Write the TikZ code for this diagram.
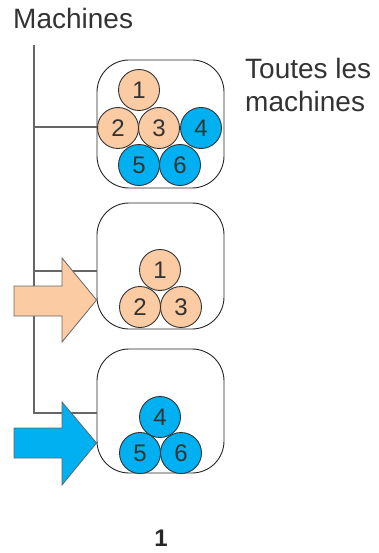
\documentclass[tikz,border=0pt]{standalone}
\usepackage{fontspec}
\setmainfont{Liberation Sans}
\usepackage{xcolor}
\definecolor{machpeach}{HTML}{FBCBA3}
\definecolor{machblue}{HTML}{00B0F0}
\definecolor{machgray}{HTML}{666666}
\definecolor{machtext}{HTML}{333333}
\usepackage{tikz}
\usetikzlibrary{positioning,calc}

\begin{document}
\begin{tikzpicture}[
  x=1pt, y=-1pt,
  groupbox/.style={
    draw=black!85,
    line width=0.9pt,
    rounded corners=32pt,
    minimum width=127pt,
    minimum height=126pt,
    inner sep=0pt,
  },
  machine/.style={
    circle,
    draw=black!80,
    line width=0.9pt,
    minimum size=41pt,
    inner sep=0pt,
    text=machtext,
    font=\fontsize{24}{26}\selectfont,
  },
  peachm/.style={machine, fill=machpeach},
  bluem/.style={machine, fill=machblue},
  trunk/.style={
    draw=machgray,
    line width=1.8pt,
  },
  bigarrow/.style={
    draw=black!60,
    line width=0.8pt,
  },
  label/.style={
    text=machtext,
    font=\fontsize{28}{33}\selectfont,
    align=left,
    inner sep=0pt,
  },
]
\useasboundingbox (0,0) rectangle (379,553);

% --- title and trunk ---
\node[label, anchor=base west] (title) at (13,29) {Machines};
\coordinate (trunktop) at (34,45);

% --- group 1: all machines ---
\node[groupbox, minimum height=128pt] (box1) at (160.5,124) {};
\node[peachm] (a1) at (139,90) {1};
\node[peachm] (a2) at (118,128) {2};
\node[peachm] (a3) at (159,128) {3};
\node[bluem]  (a4) at (201,128) {4};
\node[bluem]  (a5) at (139,165) {5};
\node[bluem]  (a6) at (180,165) {6};
\node[label, anchor=base west] (alltext) at (245,112) {Toutes les\\machines};

% --- group 2: machines 1-3 ---
\node[groupbox] (box2) at (160.5,266) {};
\node[peachm] (b1) at (160,270) {1};
\node[peachm] (b2) at (140,307) {2};
\node[peachm] (b3) at (181,307) {3};

% --- group 3: machines 4-6 ---
\node[groupbox, minimum height=124pt] (box3) at (160.5,411) {};
\node[bluem] (c4) at (160,417) {4};
\node[bluem] (c5) at (140,453) {5};
\node[bluem] (c6) at (181,453) {6};

% --- connectors ---
\draw[trunk] (trunktop) |- ([yshift=-2pt]box3.west);
\draw[trunk] ([yshift=-3pt]box1.west -| trunktop) -- ([yshift=-3pt]box1.west);
\draw[trunk] ([yshift=-5pt]box2.west -| trunktop) -- ([yshift=-5pt]box2.west);

% --- block arrows ---
\draw[bigarrow, fill=machpeach]
  (14,286) -- (62,286) -- (62,258) -- (box2.west |- 0,300) -- (62,342)
  -- (62,316) -- (14,316) -- cycle;
\draw[bigarrow, fill=machblue]
  (14,428) -- (62,428) -- (62,402) -- (box3.west |- 0,443) -- (62,485)
  -- (62,458) -- (14,458) -- cycle;

% --- caption ---
\node[text=black!85, font=\bfseries\fontsize{24}{26}\selectfont] (caption) at (161,538) {1};

\end{tikzpicture}
\end{document}
